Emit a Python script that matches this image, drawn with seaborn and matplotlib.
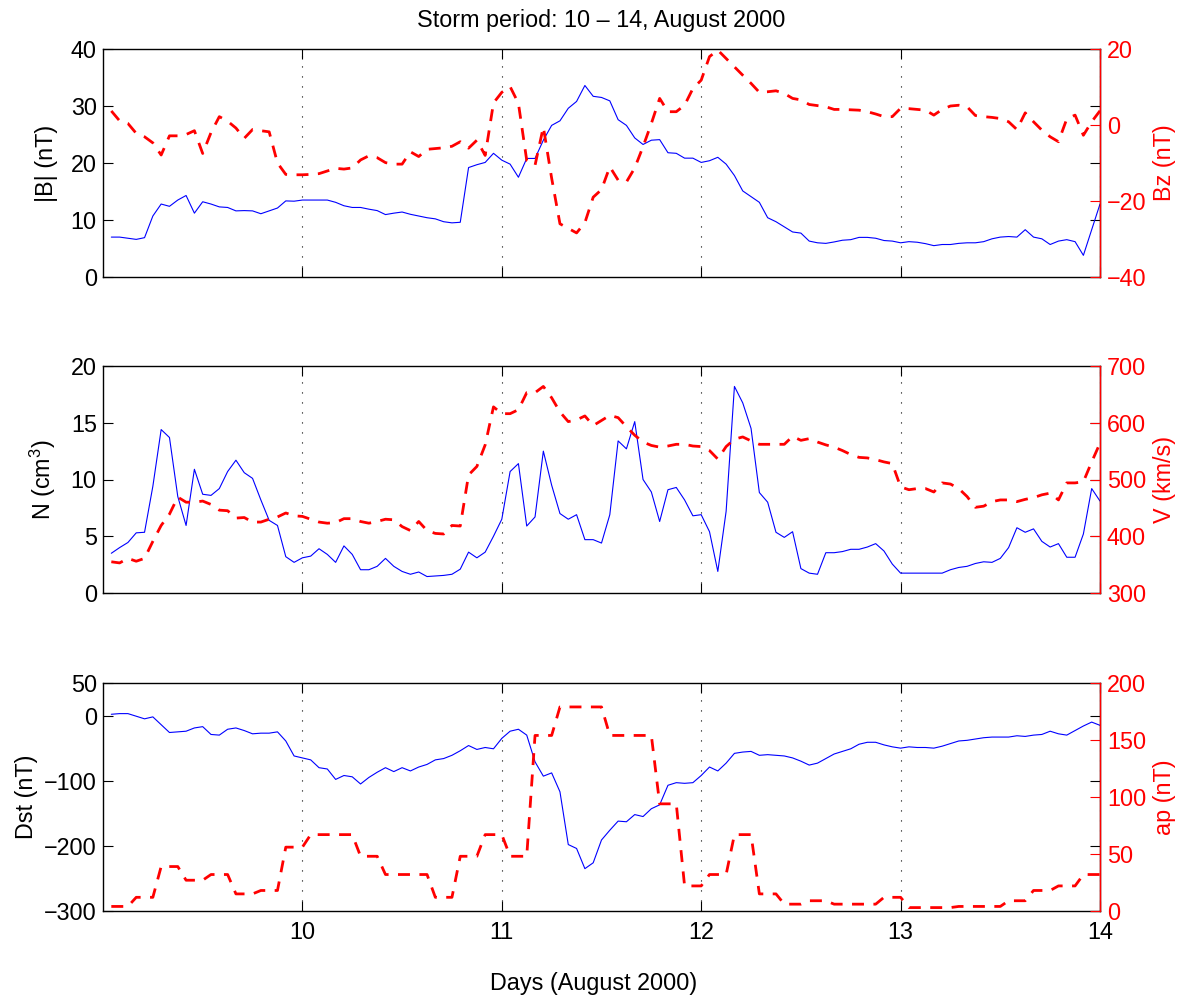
import numpy as np
import matplotlib
matplotlib.use("Agg")
import matplotlib.pyplot as plt
import seaborn as sns

# ---------------------------------------------------------------------------
# Hourly solar-wind / geomagnetic data, 9-14 August 2000 (hour 1 .. hour 120)
# ---------------------------------------------------------------------------
hours = np.arange(1, 121)
days = 9 + hours / 24.0

# |B| (nT)
b_total = [7.0, 7.0, 6.8, 6.6, 6.9, 10.7, 12.8, 12.4, 13.5, 14.3,
           11.2, 13.2, 12.8, 12.3, 12.2, 11.6, 11.65, 11.6, 11.1, 11.6,
           12.1, 13.35, 13.3, 13.5, 13.5, 13.5, 13.5, 13.1, 12.5, 12.2,
           12.2, 11.9, 11.65, 10.95, 11.2, 11.4, 11.0, 10.7, 10.4, 10.2,
           9.7, 9.5, 9.6, 19.2, 19.7, 20.1, 21.7, 20.5, 19.8, 17.5,
           20.8, 20.8, 24.0, 26.6, 27.4, 29.6, 30.8, 33.6, 31.7, 31.5,
           30.9, 27.6, 26.6, 24.4, 23.25, 24.0, 24.1, 21.8, 21.7, 20.85,
           20.85, 20.1, 20.4, 21.0, 19.8, 17.8, 15.1, 14.1, 13.1, 10.4,
           9.7, 8.8, 7.9, 7.7, 6.3, 6.0, 5.9, 6.15, 6.45, 6.55,
           6.95, 6.95, 6.8, 6.4, 6.3, 6.0, 6.2, 6.1, 5.85, 5.5,
           5.7, 5.7, 5.9, 6.0, 6.0, 6.2, 6.7, 7.0, 7.1, 7.0,
           8.3, 7.0, 6.7, 5.7, 6.3, 6.55, 6.2, 3.8, 8.3, 12.8]

# Bz (nT)
bz = [3.7, 1.1, 0.4, -2.2, -3.1, -4.7, -7.9, -2.85, -2.85, -2.5,
      -1.5, -7.5, -2.0, 2.2, 1.0, -0.8, -3.5, -1.2, -1.5, -1.8,
      -10.0, -13.0, -13.1, -13.1, -13.0, -12.8, -12.1, -11.4, -11.6, -11.3,
      -9.2, -8.1, -8.6, -9.9, -10.3, -10.3, -7.05, -8.3, -6.4, -6.2,
      -6.0, -5.6, -4.4, -6.1, -4.0, -8.0, 5.8, 8.6, 10.1, 5.7,
      -9.3, -10.6, -0.5, -14.0, -26.0, -27.2, -28.4, -25.7, -19.0, -17.0,
      -11.0, -14.5, -15.0, -11.3, -5.7, 0.4, 7.0, 3.5, 3.5, 5.2,
      9.6, 11.8, 18.0, 19.7, 17.5, 15.3, 13.1, 10.95, 8.6, 8.75,
      9.0, 8.3, 7.0, 6.6, 5.4, 5.1, 4.8, 4.1, 4.1, 4.0,
      3.9, 3.5, 2.9, 2.2, 2.2, 4.4, 4.3, 4.1, 3.9, 2.6,
      4.1, 5.0, 5.2, 4.8, 2.5, 2.2, 2.0, 1.7, 0.85, -1.2,
      3.2, 0.85, -1.35, -3.1, -4.4, 1.6, 2.6, -2.7, 0.85, 3.75]

# N (cm^-3)
density = [3.5, 4.0, 4.45, 5.3, 5.35, 9.4, 14.4, 13.7, 8.5, 5.95,
           10.9, 8.7, 8.6, 9.2, 10.7, 11.7, 10.6, 10.1, 8.2, 6.4,
           5.95, 3.2, 2.7, 3.1, 3.25, 3.9, 3.4, 2.7, 4.15, 3.4,
           2.05, 2.05, 2.35, 3.05, 2.35, 1.9, 1.65, 1.85, 1.45, 1.5,
           1.55, 1.65, 2.1, 3.6, 3.1, 3.6, 5.0, 6.5, 10.7, 11.4,
           5.9, 6.7, 12.5, 9.5, 7.0, 6.5, 6.9, 4.7, 4.7, 4.4,
           6.9, 13.4, 12.7, 15.1, 10.0, 8.9, 6.3, 9.1, 9.3, 8.2,
           6.8, 6.9, 5.4, 1.9, 7.2, 18.2, 16.75, 14.5, 8.85, 8.0,
           5.35, 4.9, 5.4, 2.15, 1.75, 1.65, 3.55, 3.55, 3.65, 3.85,
           3.85, 4.05, 4.35, 3.7, 2.55, 1.75, 1.75, 1.75, 1.75, 1.75,
           1.75, 2.05, 2.25, 2.35, 2.6, 2.75, 2.7, 3.05, 4.0, 5.75,
           5.35, 5.65, 4.55, 4.05, 4.35, 3.15, 3.15, 5.2, 9.2, 8.1]

# V (km/s)
speed = [355, 353, 361, 356, 361, 391, 419, 439, 469, 460,
         460, 462, 456, 446, 445, 432, 433, 425, 425, 430,
         434, 441, 436, 435, 430, 425, 423, 424, 431, 431,
         426, 423, 426, 430, 429, 417, 410, 426, 410, 405,
         404, 419, 418, 508, 523, 561, 628, 616, 616, 623,
         653, 653, 664, 644, 619, 602, 605, 612, 595, 604,
         613, 609, 593, 578, 566, 560, 557, 559, 562, 562,
         559, 558, 551, 536, 558, 571, 575, 568, 562, 562,
         562, 562, 576, 569, 572, 566, 561, 557, 551, 544,
         539, 538, 535, 531, 528, 487, 482, 484, 484, 478,
         494, 492, 484, 470, 451, 453, 461, 464, 464, 461,
         465, 468, 473, 476, 464, 494, 494, 496, 531, 564]

# Dst (nT)
dst = [2, 3, 3, -1, -5, -2, -14, -26, -25, -24,
       -19, -17, -29, -30, -21, -19, -23, -28, -27, -27,
       -25, -39, -62, -65, -68, -80, -82, -98, -92, -94,
       -105, -95, -87, -80, -86, -80, -85, -79, -75, -68,
       -66, -61, -54, -46, -52, -49, -51, -35, -24, -21,
       -30, -71, -93, -88, -117, -198, -204, -235, -226, -191,
       -176, -162, -163, -152, -155, -143, -137, -107, -103, -104,
       -103, -92, -79, -85, -73, -58, -56, -55, -61, -60,
       -61, -62, -65, -70, -76, -73, -66, -59, -55, -51,
       -44, -41, -41, -45, -48, -50, -48, -49, -49, -50,
       -47, -43, -39, -38, -36, -34, -33, -33, -33, -31,
       -32, -30, -29, -24, -28, -30, -23, -16, -10, -15]

# ap (nT), 3-hourly index values
ap_3h = [4, 12, 39, 27, 32, 15, 18, 56, 67, 67,
         48, 32, 32, 12, 48, 67, 48, 154, 179, 179,
         154, 154, 94, 22, 32, 67, 15, 6, 9, 6,
         6, 12, 3, 3, 4, 4, 9, 18, 22, 32]
ap = np.repeat(ap_3h, 3)

day_ticks = [10, 11, 12, 13, 14]

# ---------------------------------------------------------------------------
# Style
# ---------------------------------------------------------------------------
sns.set_style("white")
plt.rcParams["font.family"] = ["Liberation Sans", "DejaVu Sans"]
plt.rcParams["mathtext.default"] = "regular"
plt.rcParams["text.color"] = "black"
plt.rcParams["axes.labelcolor"] = "black"
plt.rcParams["xtick.color"] = "black"
plt.rcParams["ytick.color"] = "black"
FS = 16.8

BLUE = (0.0, 0.0, 1.0)
RED = (1.0, 0.0, 0.0)
DASH = (0, (4.3, 3.4))
DOT = (0, (1, 8))

W, H = 1181, 998
fig = plt.figure(figsize=(W / 100, H / 100), dpi=100)

left_px, right_px = 103, 1100
rows_px = [(49, 277), (366, 593), (683, 911)]

panels = [
    dict(left=b_total, right=bz,
         llab="|B| (nT)", rlab="Bz (nT)", lpos=-0.045,
         llim=(0, 40), lticks=[0, 10, 20, 30, 40],
         rlim=(-40, 20), rticks=[-40, -20, 0, 20]),
    dict(left=density, right=speed,
         llab="N (cm$^{3}$)", rlab="V (km/s)", lpos=-0.045,
         llim=(0, 20), lticks=[0, 5, 10, 15, 20],
         rlim=(300, 700), rticks=[300, 400, 500, 600, 700]),
    dict(left=dst, right=ap,
         llab="Dst (nT)", rlab="ap (nT)", lpos=-0.065,
         llim=(-300, 50), lticks=[-300, -200, -100, 0, 50],
         rlim=(0, 200), rticks=[0, 50, 100, 150, 200]),
]

axes = []
for i, (p, (top_px, bot_px)) in enumerate(zip(panels, rows_px)):
    rect = [left_px / W, 1 - bot_px / H,
            (right_px - left_px) / W, (bot_px - top_px) / H]
    ax = fig.add_axes(rect)
    ax2 = ax.twinx()

    sns.lineplot(x=days, y=p["left"], ax=ax, color=BLUE, linewidth=0.8)
    sns.lineplot(x=days, y=p["right"], ax=ax2, color=RED, linewidth=2.0,
                 linestyle=DASH)

    ax.set_xlim(9, 14)
    ax.set_ylim(*p["llim"])
    ax.set_yticks(p["lticks"])
    ax.set_xticks(day_ticks)
    ax2.set_ylim(*p["rlim"])
    ax2.set_yticks(p["rticks"])

    ax.grid(True, axis="x", color="black", linestyle=DOT, linewidth=0.8)
    ax.grid(False, axis="y")
    ax2.grid(False)

    for s in ax.spines.values():
        s.set_visible(True)
        s.set_color("black")
        s.set_linewidth(1.0)
    for name, s in ax2.spines.items():
        s.set_visible(name == "right")
    ax2.spines["right"].set_color(RED)
    ax2.spines["right"].set_linewidth(1.0)

    ax.tick_params(axis="both", direction="in", length=7, width=0.8,
                   color="black", labelsize=FS, labelcolor="black",
                   left=True, right=True, top=True, bottom=True,
                   labelright=False, labeltop=False)
    ax.tick_params(axis="y", pad=4.5)
    ax.tick_params(axis="x", pad=7)
    ax2.tick_params(axis="y", direction="in", length=7, width=0.8,
                    color=RED, labelcolor=RED, labelsize=FS, pad=5,
                    right=True, left=False)

    if i < 2:
        ax.tick_params(axis="x", labelbottom=False)

    ax.set_xlabel("")
    ax.set_ylabel(p["llab"], fontsize=FS, color="black")
    ax.yaxis.set_label_coords(p["lpos"], 0.5)
    ax2.set_ylabel(p["rlab"], fontsize=FS, color=RED, rotation=90)
    ax2.yaxis.set_label_coords(1.053, 0.5)

    axes.append((ax, ax2))

axes[0][0].set_title("Storm period: 10 \u2013 14, August 2000",
                     fontsize=FS, pad=16, color="black")
fig.text(593.5 / W, 1 - 990 / H, "Days (August 2000)", fontsize=FS,
         ha="center", va="baseline", color="black")

fig.savefig("out.png", dpi=100)
